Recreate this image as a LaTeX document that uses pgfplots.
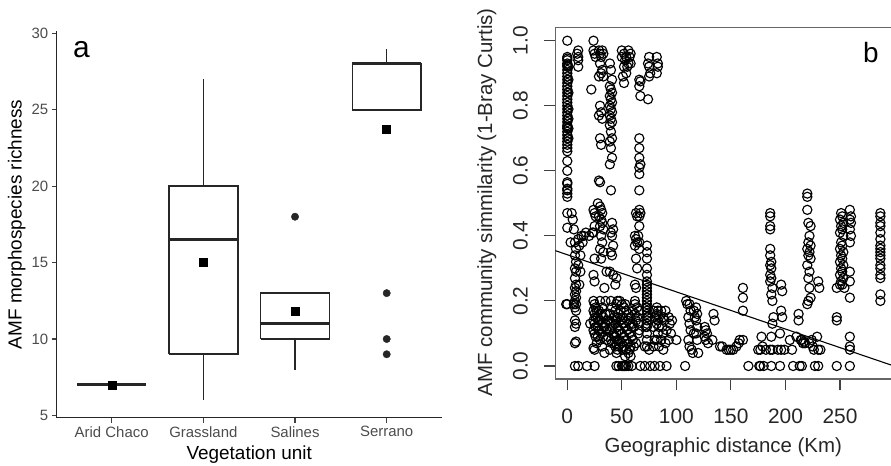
\documentclass[border=0pt]{standalone}
\usepackage{fontspec}
\setmainfont{Liberation Sans}
\usepackage{pgfplots}
\pgfplotsset{compat=1.18}
\begin{document}
\begin{tikzpicture}
\begin{axis}[
 scale only axis, width=385bp, height=386.7bp,
 at={(56.7bp,48.3bp)}, anchor=south west,
 xmin=0.4, xmax=4.6, ymin=4.85, ymax=30.15,
 axis x line*=bottom, axis y line*=left,
 axis line style={-, line width=1.4bp, draw=black!85},
 xtick={1,2,3,4}, xticklabels={Arid Chaco,Grassland,Salines,Serrano},
 ytick={5,10,15,20,25,30},
 tick align=outside, major tick length=5bp,
 tick style={line width=1.2bp, draw=black!75},
 ticklabel style={font=\fontsize{15}{17}\selectfont, text=black!70},
 /pgf/number format/assume math mode=true,
 xlabel={Vegetation unit}, ylabel={AMF morphospecies richness},
 label style={font=\fontsize{19}{22}\selectfont},
 xlabel style={at={(axis description cs:0.5,-0.0957)}, anchor=center},
 ylabel style={at={(axis description cs:-0.1039,0.5)}, anchor=center},
 clip=false,
]
% boxes
\addplot[draw=black!85, line width=1.6bp] coordinates {(1.625,9) (2.375,9) (2.375,20) (1.625,20) (1.625,9)};
\addplot[draw=black!85, line width=1.6bp] coordinates {(2.625,10) (3.375,10) (3.375,13) (2.625,13) (2.625,10)};
\addplot[draw=black!85, line width=1.6bp] coordinates {(3.625,25) (4.375,25) (4.375,28) (3.625,28) (3.625,25)};
% whiskers
\addplot[draw=black!85, line width=1.6bp] coordinates {(2,6) (2,9)};
\addplot[draw=black!85, line width=1.6bp] coordinates {(2,20) (2,27)};
\addplot[draw=black!85, line width=1.6bp] coordinates {(3,8) (3,10)};
\addplot[draw=black!85, line width=1.6bp] coordinates {(4,28) (4,29)};
% medians
\addplot[draw=black!85, line width=3.1bp] coordinates {(0.625,7) (1.375,7)};
\addplot[draw=black!85, line width=3.1bp] coordinates {(1.625,16.5) (2.375,16.5)};
\addplot[draw=black!85, line width=3.1bp] coordinates {(2.625,11) (3.375,11)};
\addplot[draw=black!85, line width=3.1bp] coordinates {(3.625,28) (4.375,28)};
\addplot[only marks, mark=*, mark size=3.7bp, color=black!85] coordinates {(3,18) (4,13) (4,10) (4,9)};
\addplot[only marks, mark=square*, mark size=4bp, color=black] coordinates {(1,7) (2,15) (3,11.85) (4,23.75)};
\end{axis}

\begin{axis}[
 scale only axis, width=345.7bp, height=351.3bp,
 at={(555.3bp,87bp)}, anchor=south west,
 xmin=-11, xmax=305.9, ymin=-0.04, ymax=1.04,
 axis line style={line width=1.3bp, draw=black!60},
 tick pos=left, tick align=outside, major tick length=11bp,
 tick style={line width=1.1bp, draw=black!75},
 xtick={0,50,100,150,200,250}, ytick={0,0.2,0.4,0.6,0.8,1.0},
 y tick label style={rotate=90, anchor=south, /pgf/number format/fixed, /pgf/number format/fixed zerofill, /pgf/number format/precision=1},
 ticklabel style={font=\fontsize{21}{24}\selectfont, text=black!85},
 xticklabel shift=15bp, yticklabel shift=13bp,
 /pgf/number format/assume math mode=true,
 xlabel={Geographic distance (Km)}, ylabel={AMF community simmilarity (1-Bray Curtis)},
 label style={font=\fontsize{20.5}{23}\selectfont, text=black!85},
 xlabel style={at={(axis description cs:0.486,-0.1953)}, anchor=center},
 ylabel style={at={(axis description cs:-0.1984,0.503)}, anchor=center},
]
\addplot[only marks, mark=o, mark size=4.6bp, mark options={line width=1.15bp}, draw=black] coordinates {
(0,1.00) (0,0.95)(0,0.945)(0,0.94)(0,0.93)(0,0.925)(0,0.92)(0,0.91)(0,0.90)(0,0.89)(0,0.88)(0,0.87)(0,0.86)(0,0.85)(0,0.84)(0,0.83)(0,0.82)(0,0.81)(0,0.80)(0,0.79)(0,0.78)(0,0.77)(0,0.76)(0,0.75)(0,0.74)(0,0.735)(0,0.73)(0,0.72)(0,0.71)(0,0.70)(0,0.69)(0,0.68)(0,0.67)(0,0.66)(0,0.63)(0,0.60)(0,0.565)(0,0.56)(0,0.545)(0,0.54)(0,0.53)(0,0.52)(0,0.47)(0,0.425)(0,0.19)(-1,0.19)
(1,0.92)(1,0.88)(1,0.84)(1,0.79)(1,0.76)(1,0.73)(1,0.70)
(4,0.47)(5,0.45)(3,0.38)(6,0.42)
(7,0.38)(8,0.36)(7,0.34)(8,0.32)(7,0.30)(8,0.29)(7,0.27)(8,0.25)(7,0.24)(8,0.23)(7,0.22)(8,0.21)(7,0.20)(8,0.19)(7,0.18)(8,0.17)(7,0.14)(8,0.13)(7,0.12)(8,0.075)(7,0.07)(6,0.19)
(10,0.39)(11,0.37)(12,0.34)(10,0.31)(12,0.29)(11,0.25)(13,0.40)
(7,0)(10,0)(18,0)(25,0)
(10,0.97)(10,0.95)(10,0.94)(10,0.92)(9,0.96)
(15,0.40)(14,0.38)(17,0.41)(21,0.13)(20,0.40)(23,0.41)(22,0.85)
(24,1.00)(24,0.97)(25,0.96)(26,0.95)(24,0.48)(25,0.47)(26,0.46)(25,0.43)(24,0.41)(25,0.33)(24,0.28)(25,0.26)(24,0.20)(25,0.19)(26,0.18)(24,0.17)(25,0.16)(26,0.15)(24,0.14)(25,0.13)(26,0.12)(24,0.11)(25,0.10)(24,0.055)(25,0.05)(26,0.09)(27,0.07)
(29,0.97)(30,0.96)(31,0.95)(32,0.97)(33,0.96)(30,0.93)(32,0.91)(29,0.89)(31,0.90)(33,0.89)(30,0.80)(31,0.78)(29,0.77)(32,0.76)(30,0.70)(31,0.68)(29,0.57)(30,0.565)(28,0.50)(30,0.49)(31,0.48)(32,0.47)(29,0.46)(31,0.45)(32,0.44)(30,0.43)(33,0.42)(31,0.40)(32,0.38)(30,0.36)(33,0.35)(31,0.33)(34,0.24)(30,0.20)(32,0.18)(29,0.17)(31,0.16)(33,0.15)(30,0.14)(32,0.13)(34,0.12)(29,0.11)(31,0.10)(33,0.09)(30,0.08)(32,0.06)(34,0.04)(35,0.20)(36,0.29)(35,0.13)(36,0.08)
(28,0.15)(28,0.12)(27,0.17)(33,0.12)(35,0.16)(36,0.11)(37,0.14)(37,0.09)(28,0.09)(29,0.14)
(39,0.93)(40,0.91)(41,0.88)(39,0.86)(40,0.85)(41,0.84)(39,0.83)(40,0.82)(41,0.81)(39,0.80)(40,0.79)(41,0.78)(39,0.77)(40,0.76)(41,0.75)(39,0.74)(40,0.72)(41,0.70)(39,0.69)(40,0.67)(41,0.64)(39,0.62)(40,0.54)(41,0.44)(42,0.42)(40,0.41)(41,0.40)(42,0.37)(40,0.35)(41,0.34)(39,0.29)(42,0.28)(40,0.20)(41,0.18)(39,0.16)(42,0.14)(40,0.13)(41,0.12)(39,0.11)(42,0.10)(40,0.08)(41,0.07)(39,0.05)
(45,0.27)(44,0.25)(46,0.20)(45,0.19)(44,0.17)(46,0.15)(45,0.14)(44,0.13)(46,0.12)(45,0.10)(44,0.09)(46,0.08)(45,0.07)(44,0.06)(46,0.05)(45,0.04)(45,0)(47,0)
(47,0.16)(47,0.11)(47,0.06)(43,0.15)(43,0.09)
(50,0.97)(52,0.96)(54,0.95)(56,0.97)(58,0.96)(50,0.95)(53,0.94)(56,0.93)(52,0.92)(58,0.93)(54,0.90)(51,0.89)(52,0.87)(57,0.95)(55,0.92)
(48,0.20)(50,0.19)(52,0.18)(54,0.17)(56,0.16)(58,0.15)(49,0.14)(51,0.13)(53,0.12)(55,0.11)(57,0.10)(59,0.09)(48,0.08)(50,0.07)(52,0.06)(54,0.05)(56,0.04)(58,0.03)(49,0.17)(51,0.15)(53,0.19)(55,0.14)(57,0.13)(59,0.12)(48,0.11)(50,0.10)(52,0.09)(54,0.08)(56,0.07)(58,0.06)(60,0.17)(60,0.13)(60,0.08)(53,0.03)(51,0.05)(57,0.05)
(50,0)(51,0)(52,0)(53,0)(54,0)(56,0)(59,0)
(63,0.47)(64,0.46)(62,0.40)(63,0.39)(64,0.38)(62,0.37)(63,0.33)(64,0.30)(62,0.25)(63,0.24)(62,0.20)(64,0.18)(62,0.16)(63,0.14)(61,0.12)(65,0.10)(63,0.07)(62,0.19)(64,0.15)(65,0.13)(61,0.06)(66,0.17)(66,0.11)
(66,0.88)(67,0.875)(66,0.86)(67,0.83)(66,0.70)(66,0.67)(66,0.64)(67,0.62)(66,0.61)(66,0.59)(66,0.54)(66,0.48)(67,0.47)(66,0.46)(66,0.43)(65,0.40)(66,0.38)(66,0.36)
(67,0)(71,0)
(75,0.95)(74,0.93)(75,0.92)(76,0.90)(75,0.89)(74,0.82)
(73,0.37)(73,0.35)(73,0.33)(73,0.30)(73,0.28)(73,0.26)(73,0.25)(73,0.24)(73,0.23)(73,0.22)(73,0.21)(73,0.20)(73,0.19)(73,0.18)(73,0.17)(73,0.16)(73,0.15)(73,0.14)(73,0.13)(73,0.12)(73,0.10)(73,0.08)(73,0.06)(75,0.05)(71,0.06)(76,0)(72,0.12)(74,0.15)(72,0.18)
(82,0.95)(83,0.93)(82,0.90)(83,0.92)(79,0.17)(80,0.15)(79,0.12)(80,0.08)(79,0.06)(80,0)(82,0.18)(83,0.17)(82,0.16)(84,0.15)(83,0.14)(82,0.13)(84,0.12)(83,0.10)(82,0.08)(84,0.06)(85,0)(86,0.17)(88,0.15)(87,0.12)(88,0.10)(86,0.08)(88,0.05)(90,0.17)(89,0.14)(91,0)(91,0.11)(90,0.07)
(93,0.15)(94,0.13)(95,0.10)(93,0.08)(96,0.14)(100,0.08)
(108,0)(109,0.20)(110,0.19)(112,0.19)(113,0.17)(111,0.15)(112,0.13)(113,0.11)(111,0.08)(112,0.06)(114,0.05)(115,0.04)(116,0.17)(117,0.15)(118,0.18)(119,0.16)(118,0.14)(119,0.12)(118,0.10)(119,0.08)(120,0.04)(116,0.10)
(126,0.12)(127,0.11)(128,0.10)(126,0.09)(127,0.08)(129,0.07)(134,0.16)(135,0.14)(133,0.08)
(140,0.06)(142,0.06)(146,0.05)(148,0.05)(152,0.05)(155,0.06)(157,0.07)(158,0.08)(150,0.05)
(161,0.24)(161,0.21)(161,0.17)(161,0.08)(166,0)
(175,0.05)(177,0.05)(178,0.09)(179,0.06)(176,0)(177,0)(180,0)(182,0.05)
(186,0.47)(186,0.46)(186,0.43)(186,0.42)(186,0.36)(186,0.34)(187,0.32)(186,0.31)(187,0.30)(186,0.28)(187,0.27)(186,0.26)(188,0.24)(187,0.22)(188,0.20)(189,0.15)(188,0.13)(187,0.09)(186,0.05)(188,0.05)(187,0)
(196,0.25)(197,0.23)(196,0.17)(197,0.15)(195,0.10)(193,0.05)(196,0.05)(195,0)(199,0.05)
(204,0.08)(206,0.05)(207,0)(212,0.16)(212,0.14)(213,0)(215,0.08)(216,0.07)(217,0.075)(218,0.07)(214,0.08)(210,0.09)(215,0)
(220,0.53)(220,0.52)(220,0.48)(221,0.44)(223,0.43)(222,0.40)(221,0.38)(223,0.37)(220,0.36)(222,0.35)(221,0.34)(223,0.33)(220,0.31)(222,0.29)(221,0.27)(222,0.24)(223,0.21)(221,0.20)(220,0.19)(224,0.08)(225,0.06)(226,0.05)(222,0.07)
(227,0)(230,0)(230,0.26)(231,0.24)(229,0.09)(230,0.05)(232,0.05)
(247,0.24)(247,0.15)(247,0.14)(247,0)
(251,0.47)(252,0.46)(250,0.45)(253,0.44)(251,0.43)(252,0.42)(250,0.41)(253,0.40)(251,0.38)(252,0.37)(250,0.36)(253,0.35)(251,0.34)(252,0.33)(250,0.32)(253,0.31)(251,0.30)(252,0.29)(250,0.28)(253,0.27)(251,0.26)(252,0.25)(254,0.24)(250,0.25)
(259,0.48)(260,0.46)(259,0.45)(260,0.44)(259,0.42)(260,0.40)(259,0.38)(259,0.29)(259,0.26)(259,0.21)(259,0.09)(259,0.06)(259,0.05)(259,0)
(287,0.47)(287,0.46)(287,0.44)(287,0.43)(287,0.41)(287,0.39)(287,0.37)(287,0.36)(287,0.35)(287,0.34)(287,0.33)(287,0.31)(287,0.30)(287,0.28)(287,0.27)(287,0.22)(287,0.20)
};
\addplot[black, line width=1.1bp] coordinates {(-11,0.3546) (306,-0.0075)};
\end{axis}
\node[font=\fontsize{30}{32}\selectfont, anchor=base west, inner sep=0pt] at (73bp,408bp) {a};
\node[font=\fontsize{28}{30}\selectfont, anchor=base west, inner sep=0pt] at (863bp,403bp) {b};
\pgfresetboundingbox
\path[use as bounding box] (0bp,0bp) rectangle (891bp,466bp);
\end{tikzpicture}
\end{document}
